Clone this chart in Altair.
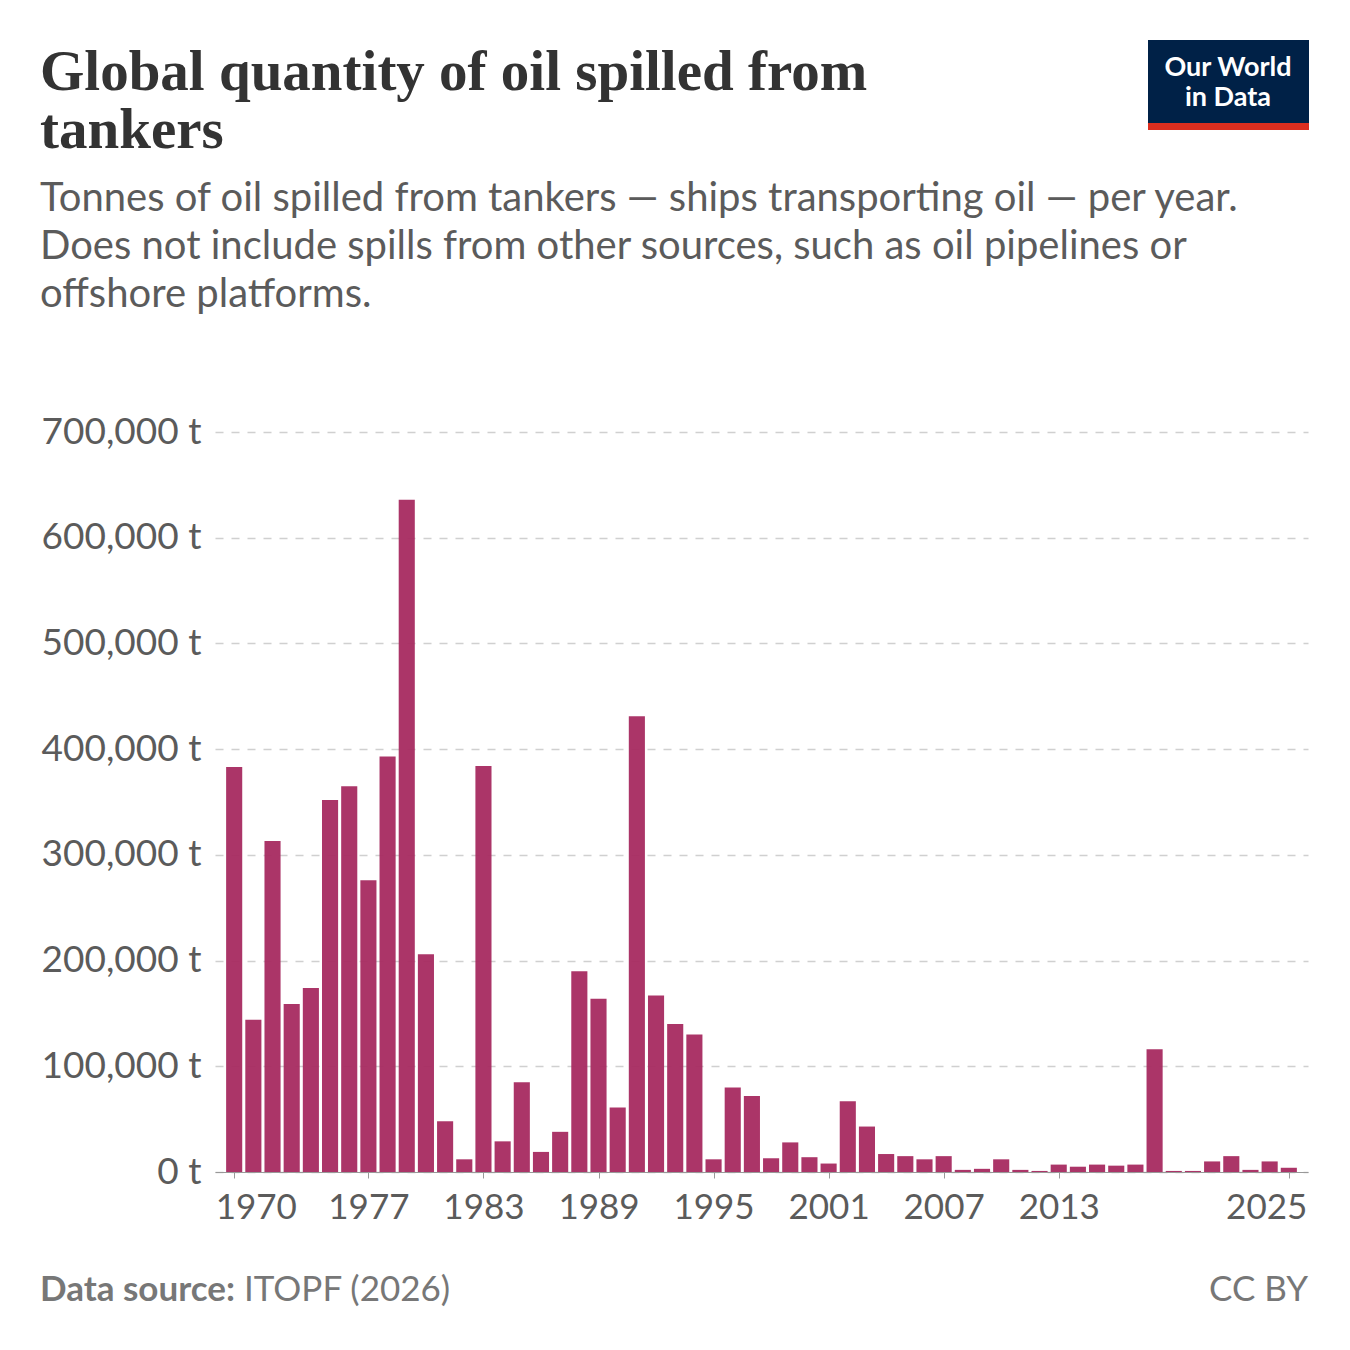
import altair as alt
import pandas as pd

years = list(range(1970, 2026))
tonnes = [383000, 144000, 313000, 159000, 174000, 352000, 365000, 276000, 393000, 636000,
          206000, 48000, 12000, 384000, 29000, 85000, 19000, 38000, 190000, 164000,
          61000, 431000, 167000, 140000, 130000, 12000, 80000, 72000, 13000, 28000,
          14000, 8000, 67000, 43000, 17000, 15000, 12000, 15000, 2000, 3000,
          12000, 2000, 1000, 7000, 5000, 7000, 6000, 7000, 116000, 1000,
          1000, 10000, 15000, 2000, 10000, 4000]
tick_years = [1970, 1977, 1983, 1989, 1995, 2001, 2007, 2013, 2025]

title_lines = ["Global quantity of oil spilled from", "tankers"]
subtitle_lines = [
    "Tonnes of oil spilled from tankers — ships transporting oil — per year.",
    "Does not include spills from other sources, such as oil pipelines or",
    "offshore platforms.",
]

W, H = 1093, 740
LEFT, TOP = 215, 432

df = pd.DataFrame({"Year": years, "Tonnes": tonnes})
df["x0"] = df["Year"] - 0.42
df["x1"] = df["Year"] + 0.42

bars = alt.Chart(df).mark_rect(color="#a72a60", opacity=0.95).encode(
    x=alt.X("x0:Q", scale=alt.Scale(domain=[1969, 2026], nice=False, zero=False),
            axis=alt.Axis(values=tick_years, format="d", title=None, grid=False,
                          labelFontSize=35, labelColor="#5b5b5b", labelFont="Lato",
                          labelAlign=alt.ExprRef("datum.value == 1970 ? 'left' : datum.value == 2025 ? 'right' : 'center'"),
                          labelOffset=alt.ExprRef("datum.value == 1970 ? -19 : datum.value == 2025 ? 18 : 0"),
                          domainColor="#999", tickColor="#999", tickSize=6, labelPadding=12)),
    x2="x1:Q",
    y=alt.Y("Tonnes:Q", scale=alt.Scale(domain=[0, 700000]),
            axis=alt.Axis(values=list(range(0, 700001, 100000)), title=None,
                          labelExpr="format(datum.value, ',') + ' t'",
                          labelFontSize=37, labelColor="#5b5b5b", labelFont="Lato",
                          domain=False, ticks=False, gridDash=[8, 8], gridColor="#d0d0d0",
                          gridWidth=1.5, labelPadding=14)),
    y2=alt.datum(0),
)


def lines_layer(lines, x, y0, dy, size, color, font, weight="normal", align="left"):
    layers = []
    for i, t in enumerate(lines):
        layers.append(alt.Chart(pd.DataFrame({"t": [t]})).mark_text(
            align=align, baseline="alphabetic", fontSize=size, color=color, font=font,
            fontWeight=weight
        ).encode(x=alt.value(x), y=alt.value(y0 + i * dy - TOP), text="t:N"))
    return layers


title = lines_layer(title_lines, 40 - LEFT, 90, 58, 57, "#333333", "Liberation Serif", "bold")
subtitle = lines_layer(subtitle_lines, 40 - LEFT, 211, 48, 40, "#5b5b5b", "Lato")

src = alt.Chart(pd.DataFrame({"a": ["Data source:"], "b": ["ITOPF (2026)"]}))
footer = [
    src.mark_text(align="left", baseline="alphabetic", fontSize=35, color="#777",
                  font="Lato", fontWeight="bold").encode(
        x=alt.value(40 - LEFT), y=alt.value(1301 - TOP), text="a:N"),
    src.mark_text(align="left", baseline="alphabetic", fontSize=35, color="#777",
                  font="Lato").encode(
        x=alt.value(244 - LEFT), y=alt.value(1301 - TOP), text="b:N"),
    src.mark_text(align="right", baseline="alphabetic", fontSize=35, color="#777",
                  font="Lato").encode(
        x=alt.value(1308 - LEFT), y=alt.value(1301 - TOP), text=alt.value("CC BY")),
]

logo_df = pd.DataFrame({"k": [1]})
logo = [
    alt.Chart(logo_df).mark_rect(color="#002147").encode(
        x=alt.value(1148 - LEFT), x2=alt.value(1309 - LEFT),
        y=alt.value(40 - TOP), y2=alt.value(124 - TOP)),
    alt.Chart(logo_df).mark_rect(color="#dc2e1f").encode(
        x=alt.value(1148 - LEFT), x2=alt.value(1309 - LEFT),
        y=alt.value(123 - TOP), y2=alt.value(130 - TOP)),
    alt.Chart(logo_df).mark_text(align="center", baseline="alphabetic", fontSize=27,
                                 color="white", font="Lato", fontWeight="bold").encode(
        x=alt.value(1228 - LEFT), y=alt.value(76 - TOP), text=alt.value("Our World")),
    alt.Chart(logo_df).mark_text(align="center", baseline="alphabetic", fontSize=27,
                                 color="white", font="Lato", fontWeight="bold").encode(
        x=alt.value(1228 - LEFT), y=alt.value(106 - TOP), text=alt.value("in Data")),
]

chart = alt.layer(bars, *title, *subtitle, *footer, *logo).properties(
    width=W, height=H, background="white",
    autosize=alt.AutoSizeParams(type="none"),
    padding={"left": LEFT - 8, "top": TOP - 8, "right": 34, "bottom": 162},
).configure_view(stroke=None)

chart.save("out.html", embed_options={"renderer": "svg", "actions": False})
